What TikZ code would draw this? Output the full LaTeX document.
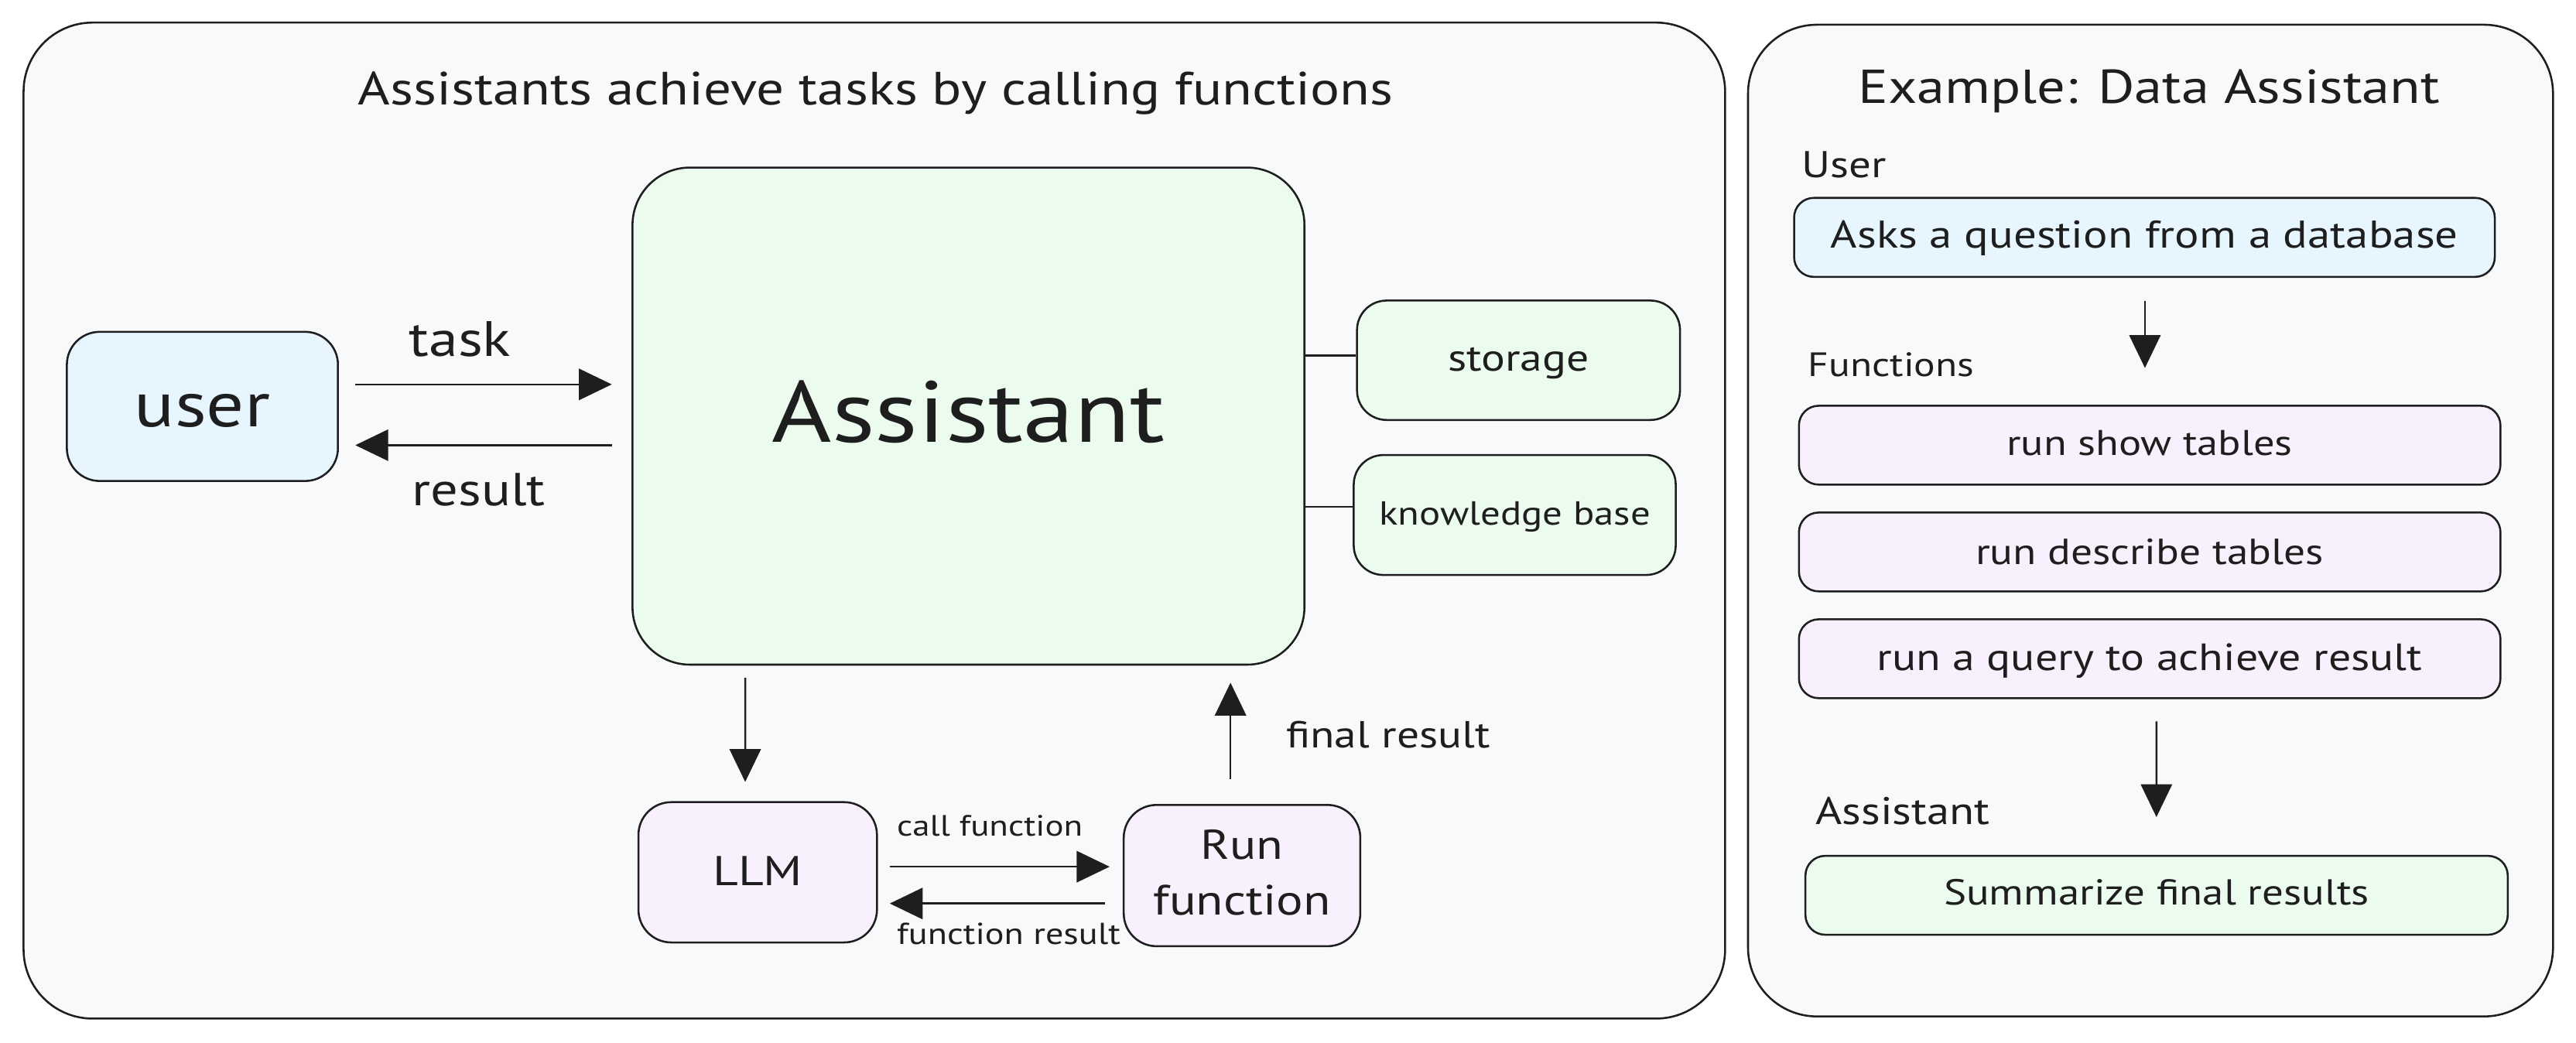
\documentclass[tikz,border=0pt]{standalone}
\usepackage{graphicx}
\usepackage{fontspec}
\setmainfont[FakeStretch=1.18]{PT Sans}
\usetikzlibrary{arrows.meta}
\definecolor{ink}{HTML}{1E1E1E}
\definecolor{panelbg}{HTML}{F8F9FA}
\definecolor{bluefill}{HTML}{E7F5FF}
\definecolor{greenfill}{HTML}{EBFBEE}
\definecolor{grapefill}{HTML}{F8F0FC}
\newcommand{\tw}[2]{\resizebox{#1pt}{!}{#2}}
\begin{document}
\begin{tikzpicture}[x=1pt,y=-1pt,
  panel/.style={draw=ink, line width=1.2pt, fill=panelbg, rounded corners=42pt, inner sep=0pt},
  box/.style={draw=ink, line width=1.2pt, rounded corners=#1, inner sep=0pt, text=ink, text depth=0pt},
  box/.default=12pt,
  lbl/.style={inner sep=0pt, text=ink, anchor=base},
  lblw/.style={inner sep=0pt, text=ink, anchor=base west},
  arr/.style={draw=ink, line width=1.2pt, -{Triangle[length=20pt,width=19pt]}},
  conn/.style={draw=ink, line width=1.2pt}
]
\useasboundingbox (0,0) rectangle (1568,634.46);
\fill[white] (0,0) rectangle (1568,634.46);

% panels
\node[panel, minimum width=1035.7pt, minimum height=606.3pt] (lpanel) at (532.2,316.9) {};
\node[panel, minimum width=490pt, minimum height=603.7pt] (rpanel) at (1309,316.9) {};

% left panel
\node[lbl] (ltitle) at (533,64) {\tw{630}{Assistants achieve tasks by calling functions}};

\node[box=20pt, fill=bluefill, minimum width=165pt, minimum height=90.8pt, text height=24.8pt] (user) at (123.2,247.4) {\tw{82.6}{user}};
\node[box=35pt, fill=greenfill, minimum width=409pt, minimum height=302.6pt, text height=31.4pt] (asst) at (589.5,253.3) {\tw{239}{Assistant}};
\node[box=18pt, fill=greenfill, minimum width=196.6pt, minimum height=72.7pt, text height=13.4pt] (stor) at (924.3,219.3) {\tw{86}{storage}};
\node[box=18pt, fill=greenfill, minimum width=196pt, minimum height=73pt, text height=12pt] (kb) at (922,313.5) {\tw{165.2}{knowledge base}};
\node[box=20pt, fill=grapefill, minimum width=145.2pt, minimum height=85.4pt, text height=16.6pt] (llm) at (461.2,531) {\tw{54.6}{LLM}};
\node[box=20pt, fill=grapefill, minimum width=144pt, minimum height=86pt, align=center, font=\fontsize{30}{34}\selectfont, text height=48pt, text depth=0pt] (runf) at (756,533) {\tw{50}{Run}\\\tw{108}{function}};

\node[lbl] (ltask) at (280,217) {\tw{62}{task}};
\node[lbl] (lresult) at (291.5,308) {\tw{81}{result}};
\node[lbl] (lcall) at (602.5,508.7) {\tw{113}{call function}};
\node[lbl] (lfres) at (614,575) {\tw{136}{function result}};
\node[lbl] (lfinal) at (845,455) {\tw{124}{final result}};

\draw[arr] ([shift={(10,-13.4)}]user.east) -- ([shift={(-12,-19.3)}]asst.west);
\draw[arr] ([shift={(-12,17.7)}]asst.west) -- ([shift={(10,23.6)}]user.east);
\draw[conn] ([shift={(0,-37)}]asst.east) -- ([shift={(0,-3)}]stor.west);
\draw[conn] ([shift={(0,55.2)}]asst.east) -- ([shift={(0,-5)}]kb.west);
\draw[arr] ([shift={(-135.9,7.4)}]asst.south) -- ([shift={(-7.6,-11.7)}]llm.north);
\draw[arr] ([shift={(-7,-15)}]runf.north) -- ([shift={(159.5,10.4)}]asst.south);
\draw[arr] ([shift={(7.2,-3.4)}]llm.east) -- ([shift={(-8,-5.4)}]runf.west);
\draw[arr] ([shift={(-11,17)}]runf.west) -- ([shift={(7.2,19)}]llm.east);

% right panel
\node[lbl] (rtitle) at (1308,63) {\tw{354}{Example: Data Assistant}};
\node[lblw] (luser) at (1096.5,108) {\tw{51.5}{User}};
\node[lblw] (lfunc) at (1100.5,229) {\tw{101}{Functions}};
\node[lblw] (lasst) at (1105,502) {\tw{106}{Assistant}};

\node[box, fill=bluefill, minimum width=426.5pt, minimum height=48.1pt, text height=13pt] (ask) at (1305.3,144.5) {\tw{382}{Asks a question from a database}};
\node[box, fill=grapefill, minimum width=427pt, minimum height=48pt, text height=12pt] (rst) at (1308.5,271) {\tw{174}{run show tables}};
\node[box, fill=grapefill, minimum width=427pt, minimum height=48pt, text height=14.8pt] (rdt) at (1308.5,336) {\tw{212}{run describe tables}};
\node[box, fill=grapefill, minimum width=427pt, minimum height=48pt, text height=14pt] (rq) at (1308.5,401) {\tw{332}{run a query to achieve result}};
\node[box, fill=greenfill, minimum width=427.5pt, minimum height=48pt, text height=12pt] (summ) at (1312.7,545) {\tw{259}{Summarize final results}};

\draw[arr] ([shift={(0.3,14)}]ask.south) -- ([shift={(-2.9,-22.4)}]rst.north);
\draw[arr] ([shift={(4.1,13.5)}]rq.south) -- ([shift={(-0.1,-23)}]summ.north);
\end{tikzpicture}
\end{document}
